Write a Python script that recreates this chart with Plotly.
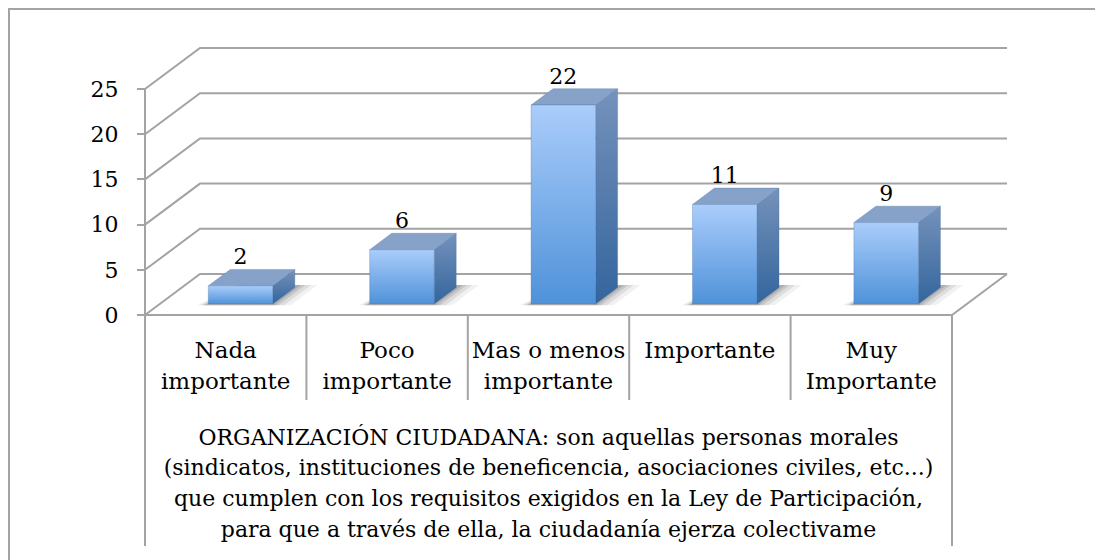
import plotly.graph_objects as go

# ---------------- data ----------------
categories = ["Nada<br>importante", "Poco<br>importante", "Mas o menos<br>importante",
              "Importante", "Muy<br>Importante"]
values = [2, 6, 22, 11, 9]
y_ticks = [0, 5, 10, 15, 20, 25]
description_lines = [
    "ORGANIZACIÓN CIUDADANA: son aquellas personas morales",
    "(sindicatos, instituciones de beneficencia, asociaciones civiles, etc...)",
    "que cumplen con los requisitos exigidos en la Ley de Participación,",
    "para que a través de ella, la ciudadanía ejerza colectivame",
]

# ---------------- geometry ----------------
OFF = 8            # page body margin of the browser
W, H = 1103 - OFF, 560 - OFF
PX_X0 = 145.0 - OFF   # pixel of front-left floor corner
CAT_PX = 161.4        # pixels per category
PX_Y0 = 315.0 - OFF   # pixel of value 0 at the front
VAL_PX = 9.04         # pixels per value unit
DX = 55.0 / CAT_PX    # depth offset in category units
DY = 41.0 / VAL_PX    # depth offset in value units
F0, F1 = 0.27, 0.67   # bar front / back depth fraction
BAR_W = 0.40
n = len(categories)
XL, XR = -0.5, n - 0.5
FONT = "DejaVu Serif"
GRID = "#a3a3a3"


def P(x, v, f=0.0):
    return x + f * DX, v + f * DY


def py_to_v(py):
    """screen pixel row (reference coords) -> value units"""
    return (PX_Y0 - (py - OFF)) / VAL_PX


fig = go.Figure()

# back wall / side wall gridlines
gx, gy = [], []
for t in y_ticks:
    for pt in (P(XL, t, 0), P(XL, t, 1), P(XR, t, 1)):
        gx.append(pt[0]); gy.append(pt[1])
    gx.append(None); gy.append(None)
# floor front and right edge
for pt in (P(XL, 0, 0), P(XR, 0, 0), P(XR, 0, 1)):
    gx.append(pt[0]); gy.append(pt[1])
gx.append(None); gy.append(None)
# vertical value-axis line and category separators
bottom_full = py_to_v(546)
bottom_cell = py_to_v(400)
gx += [XL, XL, None]; gy += [max(y_ticks), bottom_full, None]
gx += [XR, XR, None]; gy += [0, bottom_full, None]
for k in range(1, n):
    gx += [k - 0.5, k - 0.5, None]; gy += [0, bottom_cell, None]
fig.add_trace(go.Scatter(x=gx, y=gy, mode="lines", line=dict(color=GRID, width=2),
                         hoverinfo="skip", showlegend=False))

# soft shadows under bars
for i, v in enumerate(values):
    xl, xr = i - BAR_W / 2, i + BAR_W / 2
    for grow, op in ((0.12, 0.07), (0.08, 0.10), (0.045, 0.13), (0.02, 0.16)):
        pts = [P(xl - grow * 0.5, 0, F0 - 0.03), P(xr + grow, 0, F0 - 0.03),
               P(xr + grow, 0, F1 + 0.06), P(xl + 0.03, 0, F1 + 0.06)]
        fig.add_trace(go.Scatter(x=[p[0] for p in pts] + [pts[0][0]],
                                 y=[p[1] for p in pts] + [pts[0][1]],
                                 mode="lines", fill="toself", line=dict(width=0),
                                 fillcolor=f"rgba(50,50,50,{op})",
                                 hoverinfo="skip", showlegend=False))

# 3D bars
for i, v in enumerate(values):
    xl, xr = i - BAR_W / 2, i + BAR_W / 2
    front = [P(xl, 0, F0), P(xr, 0, F0), P(xr, v, F0), P(xl, v, F0)]
    side = [P(xr, 0, F0), P(xr, 0, F1), P(xr, v, F1), P(xr, v, F0)]
    top = [P(xl, v, F0), P(xr, v, F0), P(xr, v, F1), P(xl, v, F1)]
    faces = [
        (side, dict(type="vertical", colorscale=[[0, "#33659d"], [1, "#7592bb"]])),
        (top, None),
        (front, dict(type="vertical", colorscale=[[0, "#4f92d9"], [1, "#aacdfb"]])),
    ]
    for poly, grad in faces:
        xs = [p[0] for p in poly] + [poly[0][0]]
        ys = [p[1] for p in poly] + [poly[0][1]]
        kw = dict(fillgradient=grad) if grad else dict(fillcolor="#86a2c8")
        fig.add_trace(go.Scatter(x=xs, y=ys, mode="lines", fill="toself",
                                 line=dict(width=0.6, color="rgba(70,110,160,0.5)"),
                                 hoverinfo="skip", showlegend=False, **kw))

# data labels
fig.add_trace(go.Scatter(
    x=[i + F0 * DX for i in range(n)],
    y=[v + F0 * DY + 27 / VAL_PX for v in values],
    mode="text", text=[str(v) for v in values], textposition="middle center",
    textfont=dict(family=FONT, size=22, color="black"),
    hoverinfo="skip", showlegend=False, cliponaxis=False))

# category labels (one entry per line)
cx, cy, ct = [], [], []
for i, lab in enumerate(categories):
    for j, line in enumerate(lab.split("<br>")):
        cx.append(i); cy.append(py_to_v(352 + 31 * j)); ct.append(line)
fig.add_trace(go.Scatter(x=cx, y=cy, mode="text", text=ct, textposition="middle center",
                         textfont=dict(family=FONT, size=23, color="black"),
                         hoverinfo="skip", showlegend=False, cliponaxis=False))

# axis title / description lines
fig.add_trace(go.Scatter(
    x=[(XL + XR) / 2] * len(description_lines),
    y=[py_to_v(439 + 30.7 * j) for j in range(len(description_lines))],
    mode="text", text=description_lines, textposition="middle center",
    textfont=dict(family=FONT, size=22, color="black"),
    hoverinfo="skip", showlegend=False, cliponaxis=False))

x_range = [XL - PX_X0 / CAT_PX, XL + (W - PX_X0) / CAT_PX]
y_range = [py_to_v(H + OFF), py_to_v(OFF)]

fig.update_layout(
    width=W, height=H,
    margin=dict(l=0, r=0, t=0, b=0),
    paper_bgcolor="white", plot_bgcolor="white",
    xaxis=dict(range=x_range, visible=False, fixedrange=True),
    yaxis=dict(range=y_range, tickvals=y_ticks, ticktext=[str(t) for t in y_ticks],
               anchor="free", position=PX_X0 / W, side="left",
               ticks="outside", ticklen=8, tickwidth=2, tickcolor=GRID,
               ticklabelstandoff=14,
               showgrid=False, zeroline=False, showline=False, fixedrange=True,
               tickfont=dict(family=FONT, size=22, color="black")),
    shapes=[dict(type="rect", xref="paper", yref="paper",
                 x0=1 / W, x1=1.05, y0=-0.05, y1=1 - 1 / H,
                 line=dict(color=GRID, width=2), fillcolor="rgba(0,0,0,0)", layer="below")],
    showlegend=False,
)

fig.write_html("out.html")
